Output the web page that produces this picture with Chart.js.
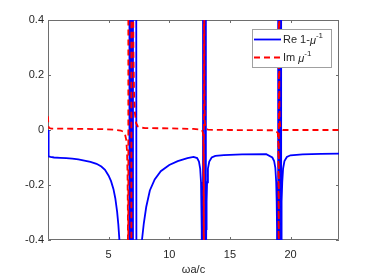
<!DOCTYPE html>
<html>
<head>
<meta charset="utf-8">
<title>Re 1-μ⁻¹ and Im μ⁻¹</title>
<script src="https://cdn.jsdelivr.net/npm/chart.js"></script>
<style>
    html, body { margin: 0; padding: 0; background: #fff; }
    #chart { display: block; }
</style>
</head>
<body>
<canvas id="chart" width="374" height="280"></canvas>
<script>
    // Re(1 - 1/mu) (off-scale points go past the axes and get clipped)
    const reX = [0.01, 0.05, 0.2, 0.5, 1, 1.5, 2, 2.5, 3, 3.5, 4, 4.4, 4.7, 5, 5.2, 5.4, 5.55, 5.7, 5.8, 5.9, 6.1, 6.4, 6.7,
        6.72, 6.85, 6.87, 7.0, 7.02, 7.3, 7.6, 7.75, 7.9, 8.1, 8.4, 8.8, 9.3, 10, 10.7, 11.5, 12, 12.3, 12.45, 12.55, 12.62, 12.66, 12.69, 12.71,
        12.72, 12.85, 12.87, 13.0, 13.01, 13.03, 13.05, 13.08, 13.12, 13.19, 13.3, 13.5, 13.8, 14.5, 16, 18, 18.5, 18.65, 18.75, 18.82, 18.86, 18.89, 18.91,
        18.92, 19.05, 19.07, 19.2, 19.21, 19.23, 19.25, 19.28, 19.32, 19.39, 19.5, 19.7, 20, 21, 22.5, 24];
    const reY = [0, -0.096, -0.098, -0.1, -0.101, -0.102, -0.104, -0.107, -0.111, -0.116, -0.123, -0.133, -0.145, -0.166, -0.186, -0.215, -0.248, -0.297, -0.343, -0.407, -0.64, -2.1, -20,
        20, 20, -20, -20, 20, -1.2, -0.52, -0.4, -0.34, -0.28, -0.22, -0.18, -0.15, -0.127, -0.113, -0.102, -0.098, -0.102, -0.115, -0.14, -0.19, -0.26, -0.36, -0.6,
        -20, 20, -20, -20, 20, -0.6, -0.36, -0.26, -0.19, -0.14, -0.115, -0.1, -0.094, -0.091, -0.089, -0.088, -0.1, -0.113, -0.138, -0.19, -0.26, -0.36, -0.6,
        -20, 20, -20, -20, 20, -0.6, -0.36, -0.26, -0.19, -0.14, -0.113, -0.098, -0.092, -0.089, -0.087, -0.086];

    // Im(1/mu)
    const imX = [0, 0.02, 0.05, 0.1, 0.3, 1.5, 3, 4.5, 5.5, 6, 6.2, 6.35, 6.45, 6.52, 6.56, 6.59, 6.61,
        6.62, 6.63, 6.87, 6.875, 6.885, 6.95, 7.0, 7.05, 7.1, 7.17, 7.27, 7.4, 7.6, 8, 10, 12, 12.5, 12.7,
        12.78, 12.82, 12.84, 12.85, 12.86, 12.88, 12.9, 12.93, 13.0, 13.2, 15, 18.7, 18.95, 19.0, 19.02,
        19.03, 19.04, 19.06, 19.08, 19.11, 19.18, 19.4, 24];
    const imY = [0.05, 0.028, 0.012, 0.007, 0.005, 0.005, 0.004, 0.003, 0.001, -0.002, -0.006, -0.015, -0.035, -0.08, -0.16, -0.32, -0.8,
        -20, 20, 20, -20, 20, 2.5, 0.7, 0.28, 0.13, 0.06, 0.025, 0.013, 0.009, 0.007, 0.006, 0.004, 0.002, 0,
        -0.01, -0.05, -0.3, -20, 20, 0.8, 0.15, 0.03, 0.006, 0.001, 0, -0.001, -0.01, -0.05, -0.3,
        -20, 20, 0.8, 0.15, 0.03, 0.005, 0, 0];

    const xTicks = [5, 10, 15, 20];
    const yTicks = [-0.4, -0.2, 0, 0.2, 0.4];
    const seriesLabels = ['Re 1-μ⁻¹', 'Im μ⁻¹'];
    // legend text split as: plain part, italic mu, superscript
    const legendParts = [['Re 1-', 'μ', '-1'], ['Im ', 'μ', '-1']];

    const FONT = '"Liberation Sans", Arial, Helvetica, sans-serif';
    const TEXT = '#262626';

    function toPoints(xs, ys) {
        return xs.map((x, i) => ({ x: x, y: ys[i] }));
    }

    // box round the axes with MATLAB-style inward ticks
    const axesBox = {
        id: 'axesBox',
        beforeDatasetsDraw(chart) {
            const ctx = chart.ctx;
            const a = chart.chartArea;
            const xs = chart.scales.x, ys = chart.scales.y;
            ctx.save();
            ctx.strokeStyle = '#6e6e6e';
            ctx.lineWidth = 1;
            ctx.beginPath();
            ctx.rect(Math.round(a.left) + 0.5, Math.round(a.top) + 0.5, Math.round(a.right - a.left) - 1, Math.round(a.bottom - a.top) - 1);
            xTicks.forEach(v => {
                const px = Math.round(xs.getPixelForValue(v)) + 0.5;
                ctx.moveTo(px, a.bottom); ctx.lineTo(px, a.bottom - 3);
                ctx.moveTo(px, a.top); ctx.lineTo(px, a.top + 3);
            });
            yTicks.forEach(v => {
                const py = Math.round(ys.getPixelForValue(v)) + 0.5;
                ctx.moveTo(a.left, py); ctx.lineTo(a.left + 3, py);
                ctx.moveTo(a.right, py); ctx.lineTo(a.right - 3, py);
            });
            ctx.stroke();
            ctx.restore();
        }
    };

    // legend box in the top right corner of the axes
    const legendBox = {
        id: 'legendBox',
        afterDraw(chart) {
            const ctx = chart.ctx;
            const a = chart.chartArea;
            const bx = a.right - 87, by = a.top + 9, bw = 79, bh = 38;
            ctx.save();
            ctx.fillStyle = '#fff';
            ctx.fillRect(bx, by, bw, bh);
            ctx.strokeStyle = '#a0a0a0';
            ctx.lineWidth = 1;
            ctx.strokeRect(bx + 0.5, by + 0.5, bw, bh);
            chart.data.datasets.forEach((ds, i) => {
                const y = by + 10.5 + i * 18;
                ctx.strokeStyle = ds.borderColor;
                ctx.lineWidth = ds.borderWidth;
                ctx.setLineDash(ds.borderDash || []);
                ctx.beginPath();
                ctx.moveTo(bx + 2, y);
                ctx.lineTo(bx + 29, y);
                ctx.stroke();
                ctx.setLineDash([]);

                const p = legendParts[i];
                let x = bx + 31;
                ctx.fillStyle = TEXT;
                ctx.textBaseline = 'middle';
                ctx.textAlign = 'left';
                ctx.font = '11px ' + FONT;
                ctx.fillText(p[0], x, y);
                x += ctx.measureText(p[0]).width;
                ctx.font = 'italic 11px ' + FONT;
                ctx.fillText(p[1], x, y + 1);
                x += ctx.measureText(p[1]).width;
                ctx.font = '8px ' + FONT;
                ctx.fillText(p[2], x, y - 4);
            });
            ctx.restore();
        }
    };

    new Chart(document.getElementById('chart').getContext('2d'), {
        type: 'line',
        data: {
            datasets: [
                {
                    label: seriesLabels[0],
                    data: toPoints(reX, reY),
                    borderColor: '#0000ff',
                    borderWidth: 1.8,
                    pointRadius: 0,
                    fill: false,
                    tension: 0,
                    clip: 0,
                    order: 2
                },
                {
                    label: seriesLabels[1],
                    data: toPoints(imX, imY),
                    borderColor: '#ff0000',
                    borderWidth: 1.8,
                    borderDash: [6, 4],
                    pointRadius: 0,
                    fill: false,
                    tension: 0,
                    clip: 0,
                    order: 1
                }
            ]
        },
        options: {
            responsive: false,
            animation: false,
            layout: { padding: { left: 0, right: 35, top: 20, bottom: 0 } },
            plugins: {
                legend: { display: false },
                tooltip: { enabled: false }
            },
            scales: {
                x: {
                    type: 'linear',
                    min: 0,
                    max: 24,
                    afterBuildTicks: s => { s.ticks = xTicks.map(v => ({ value: v })); },
                    afterFit: s => { s.height = 40; },
                    grid: { display: false, drawTicks: false },
                    border: { display: false },
                    ticks: { padding: 8, color: TEXT, font: { family: FONT, size: 11 }, maxRotation: 0 },
                    title: {
                        display: true,
                        text: 'ωa/c',
                        color: TEXT,
                        font: { family: FONT, size: 11 },
                        padding: { top: 0, bottom: 3 }
                    }
                },
                y: {
                    type: 'linear',
                    min: -0.4,
                    max: 0.4,
                    afterBuildTicks: s => { s.ticks = yTicks.map(v => ({ value: v })); },
                    afterFit: s => { s.width = 48; },
                    grid: { display: false, drawTicks: false },
                    border: { display: false },
                    ticks: {
                        padding: 4,
                        color: TEXT,
                        font: { family: FONT, size: 11 },
                        callback: v => (v === 0 ? '0' : v.toFixed(1))
                    }
                }
            }
        },
        plugins: [axesBox, legendBox]
    });
</script>
</body>
</html>
